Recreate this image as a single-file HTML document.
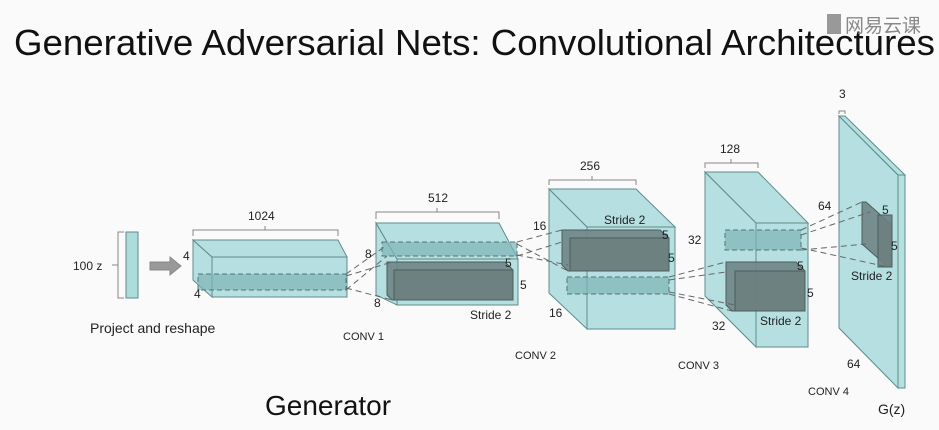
<!DOCTYPE html>
<html><head><style>
html,body{margin:0;padding:0;background:#fafafa;}
svg{display:block;font-family:"Liberation Sans",Arial,sans-serif;}
</style></head><body>
<svg width="939" height="430" viewBox="0 0 939 430" xmlns="http://www.w3.org/2000/svg">
<rect width="939" height="430" fill="#fafafa"/>
<text x="14" y="55" font-size="36" textLength="921" lengthAdjust="spacingAndGlyphs" fill="#111">Generative Adversarial Nets: Convolutional Architectures</text>
<text x="845" y="32" font-size="19" fill="#888" font-family="'Liberation Sans','Noto Sans CJK SC',sans-serif">网易云课</text>
<rect x="827" y="14" width="14" height="20" fill="#999"/>

<g stroke="#5e8c8c" stroke-width="1" fill="#addcdd">
<rect x="126" y="232" width="12" height="66"/>
</g>
<path d="M124 232 H118 V298 H124 M118 265 H112" fill="none" stroke="#888"/>
<text x="73" y="270" font-size="12" fill="#222">100 z</text>
<path d="M150 262 H170 V257 L181 266 L170 275 V270 H150 Z" fill="#999" stroke="#888"/>
<text x="90" y="333" font-size="14" fill="#222">Project and reshape</text>

<g stroke="#5e8c8c" stroke-width="1" fill="#addcdd" fill-opacity="0.9">
<polygon points="193,240 212,257 212,297 193,280"/>
<polygon points="193,240 338,240 347,257 212,257"/>
<rect x="212" y="257" width="135" height="40"/>
<polygon points="376,223 397,259 397,305 376,295"/>
<polygon points="376,223 499,223 518,259 397,259"/>
<rect x="397" y="259" width="121" height="46"/>
<polygon points="549,189 587,227 587,329 549,293"/>
<polygon points="549,189 636,189 675,227 587,227"/>
<rect x="587" y="227" width="88" height="102"/>
<polygon points="705,172 756,223 756,347 705,296"/>
<polygon points="705,172 758,172 808,223 756,223"/>
<rect x="756" y="223" width="52" height="124"/>
<polygon points="839,116 898,175 898,388 839,328"/>
<polygon points="839,116 845,116 905,175 898,175"/>
<rect x="898" y="175" width="7" height="213"/>
</g>

<g fill="#7fb4b6" fill-opacity="0.7" stroke="#4f7777" stroke-dasharray="5,3">
<rect x="198" y="274" width="148" height="16"/>
<rect x="382" y="242" width="135" height="14"/>
<rect x="567" y="277" width="102" height="17"/>
<rect x="725" y="230" width="76" height="20"/>
</g>
<g fill="#6f8586" fill-opacity="0.9" stroke="#4a5e5e">
<polygon points="387,262 505,262 513,270 513,300 392,300 387,295"/>
<rect x="394" y="270" width="119" height="30" fill="#6d8080"/>
<polygon points="562,230 660,230 669,238 669,271 568,271 562,265"/>
<rect x="570" y="238" width="99" height="33" fill="#6d8080"/>
<polygon points="726,262 796,262 805,271 805,311 732,311 726,305"/>
<rect x="735" y="271" width="70" height="40" fill="#6d8080"/>
<polygon points="862,202 866,202 892,225 892,267 888,267 862,244"/>
<rect x="878" y="215" width="14" height="52" fill="#6d8080"/>
</g>

<g stroke="#666" stroke-dasharray="6,4" fill="none" stroke-width="1">
<path d="M346 274 L387 245 M346 290 L387 256 M346 276 L392 262 M346 288 L392 300"/>
<path d="M517 242 L562 230 M517 256 L562 242 M517 244 L568 271 M517 255 L568 265"/>
<path d="M669 277 L726 262 M669 294 L732 311 M669 280 L726 272 M669 292 L735 305"/>
<path d="M801 230 L862 202 M801 250 L866 244 M801 235 L870 212 M801 248 L888 267"/>
</g>

<g font-size="12" fill="#222">
<path d="M193 236 V230 H338 V236 M265 230 V226" fill="none" stroke="#888"/>
<text x="248" y="220">1024</text>
<text x="183" y="260">4</text><text x="194" y="298">4</text>
<path d="M376 219 V212 H499 V219 M437 212 V208" fill="none" stroke="#888"/>
<text x="428" y="202">512</text>
<text x="365" y="258">8</text><text x="374" y="307">8</text>
<text x="505" y="267">5</text><text x="520" y="289">5</text>
<text x="470" y="319">Stride 2</text>
<text x="343" y="340" font-size="11">CONV 1</text>
<path d="M549 185 V180 H636 V185 M592 180 V176" fill="none" stroke="#888"/>
<text x="580" y="170">256</text>
<text x="533" y="230">16</text><text x="549" y="317">16</text>
<text x="604" y="224">Stride 2</text>
<text x="662" y="239">5</text><text x="668" y="262">5</text>
<text x="515" y="359" font-size="11">CONV 2</text>
<path d="M705 168 V163 H758 V168 M731 163 V159" fill="none" stroke="#888"/>
<text x="720" y="153">128</text>
<text x="688" y="244">32</text><text x="712" y="330">32</text>
<text x="797" y="270">5</text><text x="807" y="297">5</text>
<text x="760" y="325">Stride 2</text>
<text x="678" y="369" font-size="11">CONV 3</text>
<path d="M839 114 V111 H845 V114" fill="none" stroke="#888"/>
<text x="839" y="98">3</text>
<text x="818" y="210">64</text>
<text x="882" y="214">5</text><text x="891" y="250">5</text>
<text x="851" y="280">Stride 2</text>
<text x="847" y="368">64</text>
<text x="808" y="395" font-size="11">CONV 4</text>
<text x="878" y="414" font-size="14">G(z)</text>
</g>
<text x="265" y="415" font-size="28" fill="#111">Generator</text>
</svg>
</body></html>
